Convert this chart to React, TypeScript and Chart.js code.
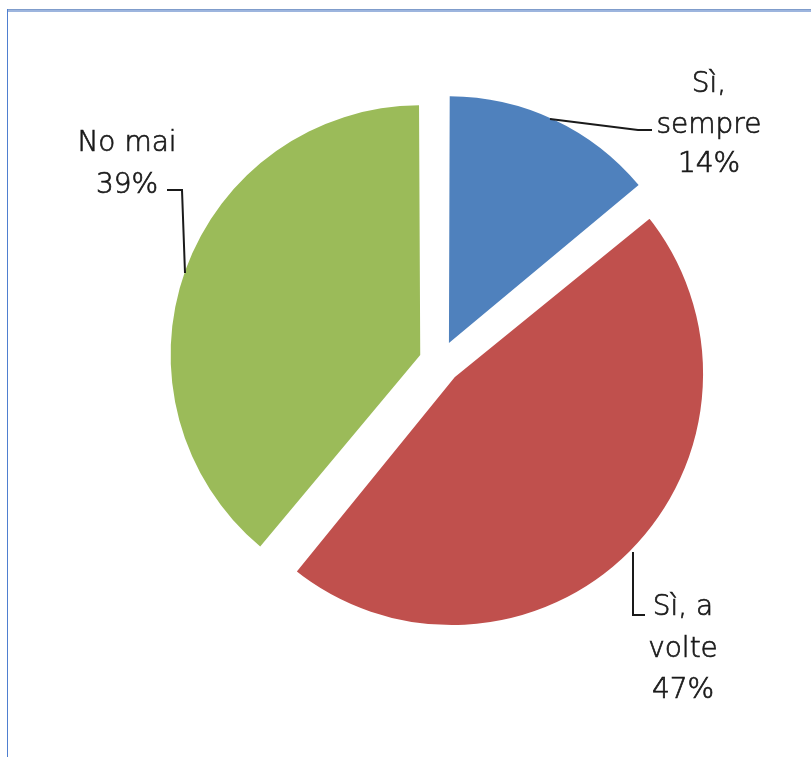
import React, { useEffect, useRef } from "react";
import { Chart, registerables } from "chart.js";

Chart.register(...registerables);

const categories = ["Sì, sempre", "Sì, a volte", "No mai"];
const categoryLines = [["Sì,", "sempre"], ["Sì, a", "volte"], ["No mai"]];
const percentages = [14, 47, 39];
const colors = ["#4F81BD", "#C0504D", "#9BBB59"];

const W = 811;
const H = 757;

export default function App() {
  const ref = useRef<HTMLCanvasElement>(null);

  useEffect(() => {
    if (!ref.current) return;

    // label layout relative to the pie centre
    const labelLayout = [
      { tx: 269, baselines: [-270, -229, -190], line: [[110, -243], [198, -232], [212, -232]] },
      { tx: 243, baselines: [253, 295, 336], line: [[193, 190], [193, 253], [205, 253]] },
      { tx: -313, baselines: [-211, -169], line: [[-273, -172], [-258, -172], [-255, -89]] },
    ];

    const framePlugin = {
      id: "frame",
      beforeDraw(chart: any) {
        const ctx = chart.ctx;
        ctx.save();
        ctx.fillStyle = "#ffffff";
        ctx.fillRect(0, 0, W, H);
        ctx.fillStyle = "#9DB5DE";
        ctx.fillRect(7, 10, W - 7, 2);
        ctx.fillStyle = "#7F9CCB";
        ctx.fillRect(7, 9, W - 7, 1);
        ctx.fillStyle = "#4F7FD0";
        ctx.fillRect(7, 9, 1, H - 9);
        ctx.restore();
      },
    };

    const labelPlugin = {
      id: "pieLabels",
      afterDatasetsDraw(chart: any) {
        const meta = chart.getDatasetMeta(0);
        const arc = meta.data[0];
        const cx = arc.x;
        const cy = arc.y;
        const ctx = chart.ctx;
        ctx.save();
        ctx.font = '300 28px "DejaVu Sans"';
        ctx.fillStyle = "#1a1a1a";
        ctx.strokeStyle = "#1a1a1a";
        ctx.textAlign = "center";
        ctx.textBaseline = "alphabetic";
        categoryLines.forEach((lines, i) => {
          const lay = labelLayout[i];
          const texts = [...lines, percentages[i] + "%"];
          ctx.lineWidth = 0.7;
          texts.forEach((t, j) => {
            ctx.fillText(t, cx + lay.tx, cy + lay.baselines[j]);
            ctx.strokeText(t, cx + lay.tx, cy + lay.baselines[j]);
          });
          ctx.lineWidth = 2;
          ctx.beginPath();
          lay.line.forEach((p, k) => {
            if (k === 0) ctx.moveTo(cx + p[0], cy + p[1]);
            else ctx.lineTo(cx + p[0], cy + p[1]);
          });
          ctx.stroke();
        });
        ctx.restore();
      },
    };

    const chart = new Chart(ref.current, {
      type: "pie",
      data: {
        labels: categories,
        datasets: [
          {
            data: percentages,
            backgroundColor: colors,
            borderColor: "#ffffff",
            borderAlign: "center",
            borderWidth: [0, 8.8, 0],
            offset: [84, 67, 84],
            hoverOffset: 0,
          },
        ],
      },
      options: {
        responsive: false,
        animation: false,
        radius: 242,
        layout: { padding: { left: 69, right: 0, top: 0, bottom: 33 } },
        plugins: {
          legend: { display: false },
          tooltip: { enabled: false },
        },
      } as any,
      plugins: [framePlugin, labelPlugin],
    } as any);

    return () => chart.destroy();
  }, []);

  return (
    <div style={{ position: "absolute", left: 0, top: 0, width: W, height: H }}>
      <canvas ref={ref} width={W} height={H} style={{ display: "block" }} />
    </div>
  );
}
